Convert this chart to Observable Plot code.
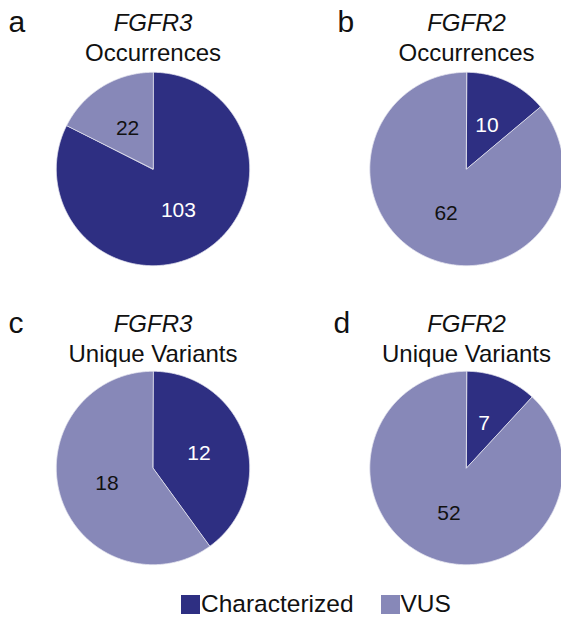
<!DOCTYPE html>
<html><head><meta charset="utf-8">
<script src="https://cdn.jsdelivr.net/npm/d3@7"></script>
<script src="https://cdn.jsdelivr.net/npm/@observablehq/plot@0.6"></script>
<style>
html,body{margin:0;padding:0;background:#fff;}
#wrap{position:relative;width:561px;height:618px;overflow:hidden;font-family:"Liberation Sans",Arial,Helvetica,sans-serif;}
#legend{position:absolute;left:181px;top:590px;}
#legend div{font-family:"Liberation Sans",Arial,sans-serif !important;font-size:24.5px !important;color:#111 !important;margin:0 !important;min-height:0 !important;}
#legend span{margin-right:27px !important;display:inline-flex;align-items:center;}
#legend svg{margin-right:1px !important;}
</style></head><body>
<div id="wrap"><div id="chart"></div><div id="legend"></div></div>
<script>
// ---- data ----
const categories = ["Characterized", "VUS"];
const panelLetters = ["a", "b", "c", "d"];
const genes = ["FGFR3", "FGFR2", "FGFR3", "FGFR2"];
const measures = ["Occurrences", "Occurrences", "Unique Variants", "Unique Variants"];
const characterized = [103, 10, 12, 7];
const vus = [22, 62, 18, 52];
const colors = ["#2e2f82", "#8788b8"];

// ---- layout ----
const W = 561, H = 590;
const centers = [[152.5, 168.5], [466, 168.5], [152.5, 467.5], [466, 467.5]];
const R = 96.7;
const letterPos = [[8, 31], [337, 31], [8, 332], [333, 332]];

const pie = d3.pie().sort(null).value(d => d.value);
const wedgePts = [], labels = [], titles = [], letters = [];
panelLetters.forEach((p, i) => {
  const [cx, cy] = centers[i];
  const rows = categories.map((c, j) => ({category: c, value: j === 0 ? characterized[i] : vus[i]}));
  pie(rows).forEach(s => {
    const id = p + "-" + s.data.category;
    const cat = s.data.category;
    wedgePts.push({id, category: cat, x: cx, y: cy});
    const n = Math.max(2, Math.ceil((s.endAngle - s.startAngle) / (Math.PI / 360)));
    for (let k = 0; k <= n; k++) {
      const a = s.startAngle + (s.endAngle - s.startAngle) * k / n;
      wedgePts.push({id, category: cat, x: cx + R * Math.sin(a), y: cy - R * Math.cos(a)});
    }
    const m = (s.startAngle + s.endAngle) / 2;
    labels.push({x: cx + R / 2 * Math.sin(m), y: cy - R / 2 * Math.cos(m), text: String(s.data.value), category: cat});
  });
  titles.push({x: cx, y: letterPos[i][1] - 1, text: genes[i], italic: true});
  titles.push({x: cx, y: letterPos[i][1] + 29, text: measures[i], italic: false});
  letters.push({x: letterPos[i][0], y: letterPos[i][1], text: panelLetters[i]});
});

const font = "Liberation Sans, Arial, Helvetica, sans-serif";
const chart = Plot.plot({
  width: W, height: H,
  margin: 0,
  x: {domain: [0, W], range: [0, W], axis: null},
  y: {domain: [0, H], range: [0, H], axis: null},
  color: {domain: categories, range: colors},
  style: {fontFamily: font, background: "white"},
  marks: [
    Plot.line(wedgePts, {x: "x", y: "y", z: "id", fill: "category", stroke: "#e6e6f0", strokeWidth: 0.8, curve: "linear-closed"}),
    Plot.text(labels.filter(d => d.category === "Characterized"), {x: "x", y: "y", text: "text", fill: "white", fontSize: 21, fontFamily: font}),
    Plot.text(labels.filter(d => d.category === "VUS"), {x: "x", y: "y", text: "text", fill: "#111", fontSize: 21, fontFamily: font}),
    Plot.text(titles.filter(d => d.italic), {x: "x", y: "y", text: "text", fill: "#111", fontSize: 24, fontStyle: "italic", lineAnchor: "bottom", fontFamily: font}),
    Plot.text(titles.filter(d => !d.italic), {x: "x", y: "y", text: "text", fill: "#111", fontSize: 24, lineAnchor: "bottom", fontFamily: font}),
    Plot.text(letters, {x: "x", y: "y", text: "text", fill: "#111", fontSize: 30, textAnchor: "start", lineAnchor: "bottom", fontFamily: font})
  ]
});
document.getElementById("chart").appendChild(chart);

const legend = Plot.legend({
  color: {type: "ordinal", domain: categories, range: colors},
  legend: "swatches",
  swatchSize: 19
});
document.getElementById("legend").appendChild(legend);
</script>
</body></html>
